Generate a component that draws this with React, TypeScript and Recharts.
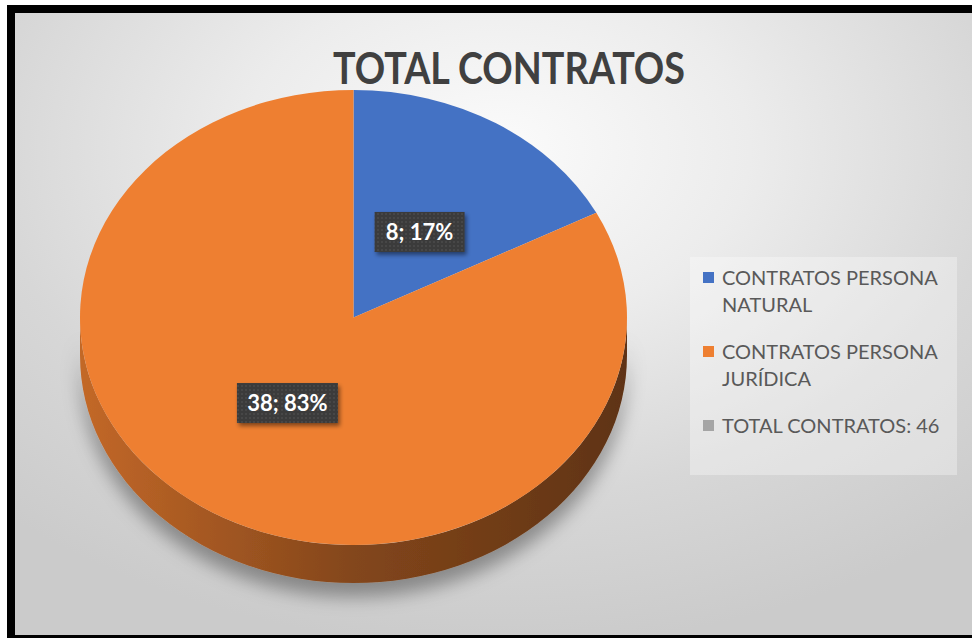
import { PieChart, Pie, Cell, Legend } from "recharts";

const categories = [
  "CONTRATOS PERSONA NATURAL",
  "CONTRATOS PERSONA JURÍDICA",
  "TOTAL CONTRATOS: 46",
];
const values = [8, 38, 0];
const colors = ["#4472C4", "#EE7F31", "#A5A5A5"];
const title = "TOTAL CONTRATOS";

const data = categories.map((name, i) => ({ name, value: values[i] }));

// vertical squash of the pie, to mimic the tilted 3D look
const K = 227.5 / 273.5;
const DEPTH = 38;

function pt(cx: number, cy: number, r: number, a: number) {
  const rad = (a * Math.PI) / 180;
  return [cx + r * Math.cos(rad), cy - r * K * Math.sin(rad)];
}

function shade(hex: string, f: number) {
  const n = parseInt(hex.slice(1), 16);
  const c = [(n >> 16) & 255, (n >> 8) & 255, n & 255].map((v) => Math.round(v * f));
  return `rgb(${c[0]},${c[1]},${c[2]})`;
}

function facePath(cx: number, cy: number, r: number, s: number, e: number) {
  const [x1, y1] = pt(cx, cy, r, s);
  const [x2, y2] = pt(cx, cy, r, e);
  const large = Math.abs(s - e) > 180 ? 1 : 0;
  const sweep = s > e ? 1 : 0;
  return `M${cx},${cy} L${x1},${y1} A${r},${r * K} 0 ${large} ${sweep} ${x2},${y2} Z`;
}

function TopFace(props: any) {
  const { cx, cy, outerRadius, startAngle, endAngle, fill } = props;
  if (Math.abs(startAngle - endAngle) < 0.01) return null;
  return <path d={facePath(cx, cy, outerRadius, startAngle, endAngle)} fill={fill} />;
}

function SideFace(props: any) {
  const { cx, cy, outerRadius: r, startAngle, endAngle, index } = props;
  if (Math.abs(startAngle - endAngle) < 0.01) return null;
  const hi = Math.max(startAngle, endAngle);
  const lo = Math.min(startAngle, endAngle);
  const parts: number[][] = [];
  for (let n = -2; n <= 1; n++) {
    const a = Math.max(lo, -180 + 360 * n);
    const b = Math.min(hi, 360 * n);
    if (b - a > 0.01) parts.push([b, a]);
  }
  if (!parts.length) return <g />;
  return (
    <g filter="url(#sideShadow)">
      {parts.map(([b, a], i) => {
        const [x1, y1] = pt(cx, cy, r, b);
        const [x2, y2] = pt(cx, cy, r, a);
        const d = `M${x1},${y1} A${r},${r * K} 0 0 1 ${x2},${y2} L${x2},${y2 + DEPTH} A${r},${r * K} 0 0 0 ${x1},${y1 + DEPTH} Z`;
        return <path key={i} d={d} fill={`url(#side-${index})`} />;
      })}
    </g>
  );
}

function renderLabel(p: any) {
  if (!p.value) return null;
  const rad = (p.midAngle * Math.PI) / 180;
  const x = p.cx + p.outerRadius * 0.465 * Math.cos(rad);
  const y = p.cy - p.outerRadius * K * 0.44 * Math.sin(rad);
  const text = `${p.value}; ${Math.round(p.percent * 100)}%`;
  const w = text.length * 11 + 24;
  return (
    <g>
      <rect x={x - w / 2} y={y - 20} width={w} height={40} fill="url(#dots)" filter="url(#lblShadow)" />
      <text
        x={x}
        y={y + 8}
        textAnchor="middle"
        fill="#ffffff"
        fontFamily="Lato"
        fontWeight={700}
        fontSize={22}
      >
        {text}
      </text>
    </g>
  );
}

function renderLegend() {
  return (
    <div
      style={{
        background: "rgba(255,255,255,0.32)",
        width: 267,
        height: 218,
        boxSizing: "border-box",
        padding: "7px 0 0 13px",
        fontFamily: "Lato",
        fontSize: 20,
        color: "#595959",
      }}
    >
      {categories.map((name, i) => (
        <div key={i} style={{ display: "flex", marginBottom: 20 }}>
          <span
            style={{
              width: 11,
              height: 11,
              background: colors[i],
              marginTop: 8,
              marginRight: 8,
              flex: "none",
            }}
          />
          <span style={{ width: 234, lineHeight: "27px" }}>{name}</span>
        </div>
      ))}
    </div>
  );
}

export default function App() {
  return (
    <div style={{ position: "fixed", left: 0, top: 0, width: 972, height: 638, overflow: "hidden", background: "#fff" }}>
      <div
        style={{
          position: "absolute",
          left: 7,
          top: 5,
          width: 980,
          height: 638,
          boxSizing: "border-box",
          border: "8px solid #000",
          background:
            "radial-gradient(ellipse 75% 80% at 50% 22%, #fbfbfb 0%, #ececec 35%, #d7d7d7 70%, #cbcbcb 100%)",
        }}
      />
      <div style={{ position: "absolute", left: 0, top: 0 }}>
        <PieChart width={972} height={638} margin={{ top: 0, right: 0, bottom: 0, left: 0 }}>
          <defs>
            {colors.map((c, i) => (
              <linearGradient key={i} id={`side-${i}`} x1="0" y1="0" x2="1" y2="0">
                <stop offset="0%" stopColor={shade(c, 0.82)} />
                <stop offset="50%" stopColor={shade(c, 0.55)} />
                <stop offset="100%" stopColor={shade(c, 0.4)} />
              </linearGradient>
            ))}
            <filter id="sideShadow" x="-15%" y="-30%" width="130%" height="170%">
              <feDropShadow dx="0" dy="14" stdDeviation="9" floodColor="#000" floodOpacity="0.35" />
            </filter>
            <filter id="lblShadow" x="-20%" y="-30%" width="150%" height="170%">
              <feDropShadow dx="2" dy="3" stdDeviation="2" floodColor="#000" floodOpacity="0.45" />
            </filter>
            <pattern id="dots" width="4" height="4" patternUnits="userSpaceOnUse">
              <rect width="4" height="4" fill="#3a3a3a" />
              <circle cx="2" cy="2" r="0.8" fill="#565656" />
            </pattern>
          </defs>
          <text
            x={509}
            y={84}
            textAnchor="middle"
            fontFamily="Lato"
            fontWeight={700}
            fontSize={44}
            fill="#404040"
            textLength={352}
            lengthAdjust="spacingAndGlyphs"
          >
            {title}
          </text>
          <Pie
            data={data}
            dataKey="value"
            nameKey="name"
            cx={353.5}
            cy={317.5}
            outerRadius={273.5}
            startAngle={90}
            endAngle={-270}
            shape={SideFace}
            legendType="none"
            label={false}
            labelLine={false}
            isAnimationActive={false}
          >
            {data.map((_, i) => (
              <Cell key={i} fill={colors[i]} />
            ))}
          </Pie>
          <Pie
            data={data}
            dataKey="value"
            nameKey="name"
            cx={353.5}
            cy={317.5}
            outerRadius={273.5}
            startAngle={90}
            endAngle={-270}
            shape={TopFace}
            label={renderLabel}
            labelLine={false}
            isAnimationActive={false}
          >
            {data.map((_, i) => (
              <Cell key={i} fill={colors[i]} />
            ))}
          </Pie>
          <Legend
            layout="vertical"
            align="right"
            verticalAlign="middle"
            content={renderLegend}
            wrapperStyle={{ left: 690, top: 257, width: 267, height: 218 }}
          />
        </PieChart>
      </div>
    </div>
  );
}
